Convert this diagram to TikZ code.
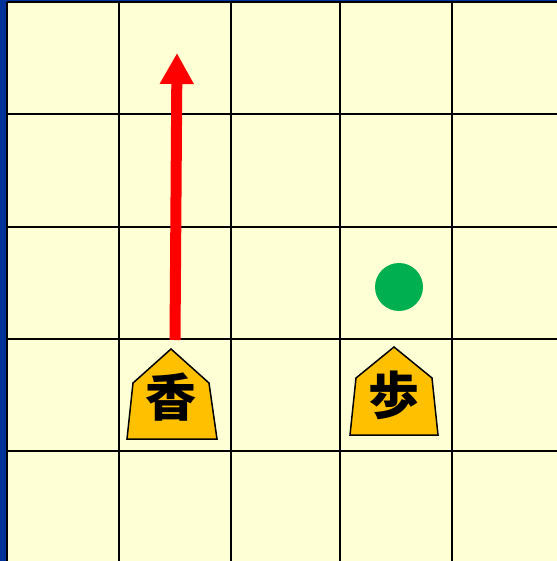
\documentclass[tikz,border=0pt]{standalone}
\usepackage{fontspec}
\newfontfamily\jpfont{Noto Sans CJK JP}
\usetikzlibrary{arrows.meta}
\definecolor{boardyellow}{HTML}{FFFFD5}
\definecolor{edgeblue}{HTML}{003399}
\definecolor{piecegold}{HTML}{FFC000}
\definecolor{markgreen}{HTML}{00B050}
\tikzset{
  gridline/.style={black, line width=0.04cm},
  piece/.style={draw=black, fill=piecegold, line width=0.03cm, line join=miter},
  piecelabel/.style={font=\jpfont\bfseries\fontsize{29}{29}\selectfont, inner sep=0pt},
  move/.style={red, line width=0.22cm, -{Triangle[length=0.62cm, width=0.64cm]}},
}
\begin{document}
\begin{tikzpicture}[x=0.02cm, y=-0.02cm]
  \useasboundingbox (0,0) rectangle (557,561);
  % board
  \fill[edgeblue] (0,0) rectangle (557,561);
  \fill[boardyellow] (7,2) rectangle (557,561);
  % grid
  \foreach \gx in {7,119,231,340,452}
    \draw[gridline] (\gx,2) -- (\gx,561);
  \foreach \gy in {2,114,227,339,451}
    \draw[gridline] (7,\gy) -- (557,\gy);
  % lance
  \draw[piece] (171,349) -- (209,383) -- (217,439) -- (127,439) -- (133,383) -- cycle;
  \node[piecelabel] (kyo) at (171,397) {香};
  % pawn
  \draw[piece] (394,347) -- (432,378) -- (438,435) -- (350,435) -- (356,378) -- cycle;
  \node[piecelabel] (fu) at (394,395) {歩};
  % target square
  \node[circle, fill=markgreen, minimum size=0.96cm, inner sep=0pt] (dest) at (399,287) {};
  % lance move
  \coordinate (start) at (175,340);
  \coordinate (goal) at (177,53);
  \draw[move] (start) -- (goal);
\end{tikzpicture}
\end{document}
